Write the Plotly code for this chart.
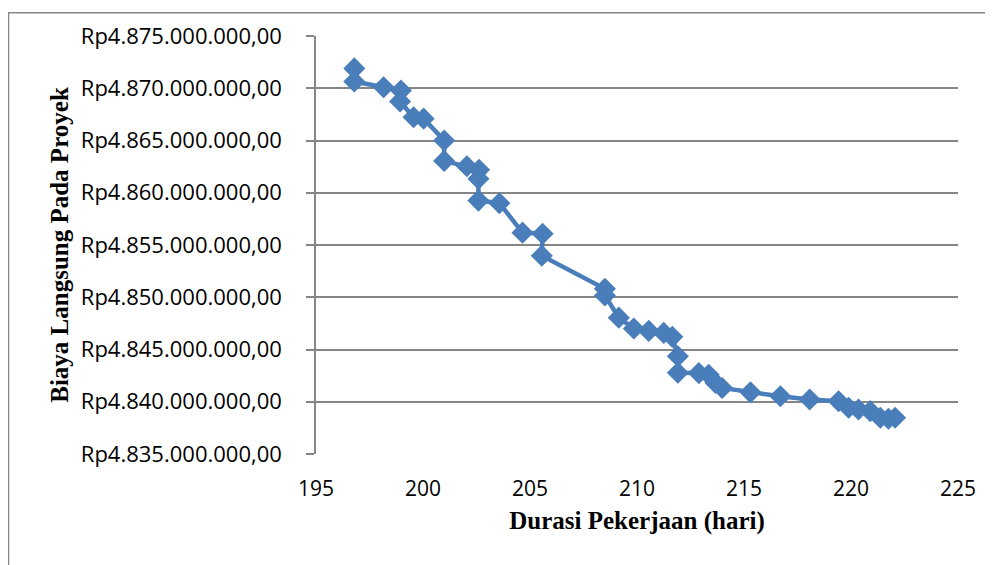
import plotly.graph_objects as go

durasi = [196.79, 196.79, 198.16, 198.97, 198.93, 199.56, 200.03, 200.99, 200.99, 202.05,
          202.62, 202.59, 202.59, 203.57, 204.65, 205.59, 205.55, 208.50, 208.50, 209.15,
          209.85, 210.55, 211.25, 211.65, 211.91, 211.91, 212.89, 213.35, 213.67, 213.98,
          215.30, 216.70, 218.07, 219.42, 219.89, 220.35, 220.90, 221.37, 221.75, 222.06]
biaya = [4871900000, 4870640000, 4870100000, 4869780000, 4868740000, 4867220000, 4867090000,
         4865000000, 4863050000, 4862530000, 4862190000, 4861340000, 4859250000, 4859000000,
         4856180000, 4856080000, 4853970000, 4850810000, 4850170000, 4848050000, 4847010000,
         4846780000, 4846590000, 4846210000, 4844350000, 4842770000, 4842740000, 4842580000,
         4841790000, 4841320000, 4840900000, 4840520000, 4840210000, 4840050000, 4839420000,
         4839260000, 4839100000, 4838470000, 4838380000, 4838470000]

y_tickvals = [4835000000, 4840000000, 4845000000, 4850000000, 4855000000,
              4860000000, 4865000000, 4870000000, 4875000000]
y_ticktext = ["Rp4.835.000.000,00", "Rp4.840.000.000,00", "Rp4.845.000.000,00",
              "Rp4.850.000.000,00", "Rp4.855.000.000,00", "Rp4.860.000.000,00",
              "Rp4.865.000.000,00", "Rp4.870.000.000,00", "Rp4.875.000.000,00"]
x_tickvals = [195, 200, 205, 210, 215, 220, 225]

color = "#4a7ebb"
grid = "#868686"

W, H = 993, 565
L, T = 308, 24
PW, PH = 642, 422

fig = go.Figure()
fig.add_trace(go.Scatter(
    x=durasi, y=biaya, mode="lines+markers",
    line=dict(color=color, width=4.5),
    marker=dict(symbol="diamond", size=17, color=color),
    showlegend=False,
))

fig.update_layout(
    width=W, height=H,
    margin=dict(l=L, r=W - L - PW, t=T, b=H - T - PH),
    paper_bgcolor="white", plot_bgcolor="white",
    font=dict(family="Open Sans, Lato, sans-serif", size=20, color="black"),
    xaxis=dict(
        range=[195, 225], tickvals=x_tickvals, ticktext=[str(v) for v in x_tickvals],
        showgrid=False, showline=False, zeroline=False, ticks="",
        ticklabelstandoff=20, tickfont=dict(size=21),
        title=dict(text="<b>Durasi Pekerjaan (hari)</b>",
                   font=dict(family="Liberation Serif, Times New Roman, serif", size=25),
                   standoff=10),
    ),
    yaxis=dict(
        range=[4835000000, 4875000000], tickvals=y_tickvals, ticktext=y_ticktext,
        showgrid=True, gridcolor=grid, gridwidth=1.5,
        showline=True, linecolor=grid, linewidth=1.5, zeroline=False,
        ticks="outside", ticklen=8, tickcolor=grid, tickwidth=1.5,
        ticklabelstandoff=20, tickfont=dict(size=22),
        title=dict(text="<b>Biaya Langsung Pada Proyek</b>",
                   font=dict(family="Liberation Serif, Times New Roman, serif", size=25),
                   standoff=5),
    ),
    shapes=[dict(type="rect", xref="paper", yref="paper",
                 x0=(0.5 - L) / PW, x1=1.2, y0=(T + PH - 0.5) / PH, y1=-0.4,
                 line=dict(color=grid, width=1.5), layer="below")],
)

fig.write_html("out.html")
